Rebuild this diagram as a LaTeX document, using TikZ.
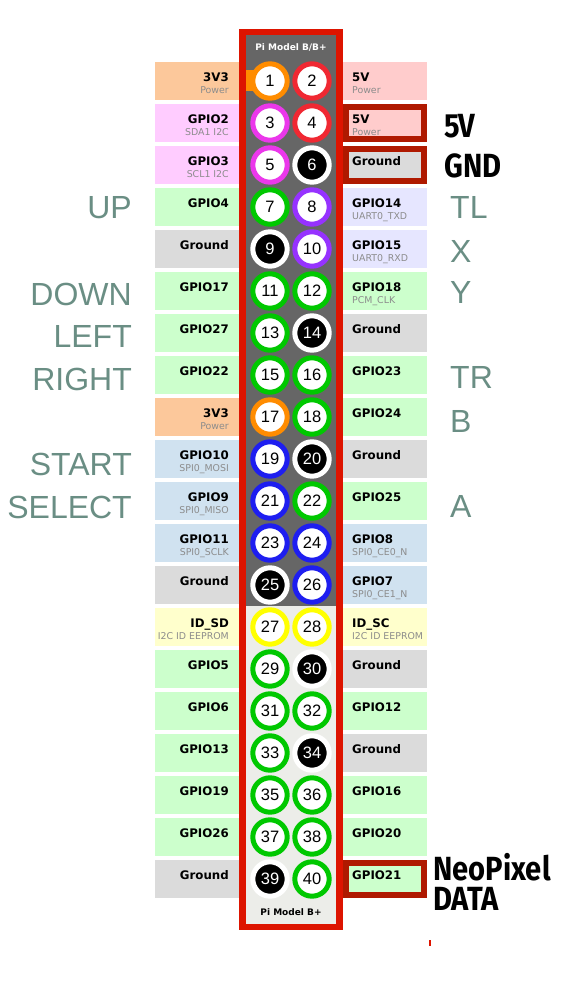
\documentclass[tikz,border=0pt]{standalone}
\usepackage{fontspec}
\setmainfont{DejaVu Sans}
\newfontfamily\pinfont{Liberation Sans}
\newfontfamily\sidefont{Liberation Sans}
\newfontfamily\neofont[FakeStretch=0.87]{Fira Sans}
\usepackage{tikz}
\usetikzlibrary{positioning}

% board and label colours
\definecolor{boardred}{RGB}{221,20,0}
\definecolor{boardgrey}{RGB}{102,102,102}
\definecolor{boardlight}{RGB}{236,237,233}
\definecolor{hired}{RGB}{175,25,0}
\definecolor{sidegreen}{RGB}{106,142,132}
\definecolor{subgrey}{RGB}{140,140,140}
\definecolor{pwr}{RGB}{252,200,155}
\definecolor{five}{RGB}{255,204,204}
\definecolor{itc}{RGB}{255,204,255}
\definecolor{gpio}{RGB}{204,255,204}
\definecolor{gnd}{RGB}{219,219,219}
\definecolor{uart}{RGB}{230,230,255}
\definecolor{spi}{RGB}{208,226,240}
\definecolor{eeprom}{RGB}{255,255,204}
% pin ring colours
\definecolor{rorange}{RGB}{255,140,0}
\definecolor{rred}{RGB}{240,40,50}
\definecolor{rmag}{RGB}{235,55,235}
\definecolor{rgreen}{RGB}{0,200,0}
\definecolor{rpurple}{RGB}{150,50,255}
\definecolor{rblue}{RGB}{30,30,240}
\definecolor{ryellow}{RGB}{255,255,0}

\begin{document}
\begin{tikzpicture}[
    x=1pt, y=-1pt,
    % Style for the coloured boxes beside the header
    pinbox/.style = {rectangle, minimum width=84pt, minimum height=38pt, inner sep=0pt},
    mainlab/.style = {inner sep=0pt, font=\bfseries\fontsize{11.8}{12}\selectfont},
    sublab/.style = {inner sep=0pt, text=subgrey, font=\fontsize{9.4}{10}\selectfont},
    % Style for the header pins: white disc with a coloured ring
    hdrpin/.style = {circle, minimum size=34.4pt, inner sep=0pt, line width=5pt, fill=white,
                     font=\pinfont\fontsize{16.5}{16}\selectfont},
    ringor/.style = {hdrpin, draw=rorange},
    ringred/.style = {hdrpin, draw=rred},
    ringmag/.style = {hdrpin, draw=rmag},
    ringgrn/.style = {hdrpin, draw=rgreen},
    ringpur/.style = {hdrpin, draw=rpurple},
    ringblu/.style = {hdrpin, draw=rblue},
    ringyel/.style = {hdrpin, draw=ryellow},
    gndpin/.style = {hdrpin, draw=white, fill=black, text=white},
    boardtxt/.style = {inner sep=0pt, font=\bfseries\fontsize{9}{10}\selectfont},
    % Style for the gamepad button names
    button/.style = {inner sep=0pt, text=sidegreen, font=\sidefont\fontsize{32}{32}\selectfont},
    neo/.style = {inner sep=0pt, text height=24pt, text depth=0pt,
                  font=\neofont\bfseries\fontsize{33.5}{30}\selectfont},
    hilite/.style = {draw=hired, line width=6pt}
]
    \useasboundingbox (0,0) rectangle (581,985);

    % --- BOARD ---
    \fill[boardred] (239,29) rectangle (343,930);
    \fill[boardgrey] (246,35) rectangle (336,606);
    \fill[boardlight] (246,606) rectangle (336,924);
    \fill[rorange] (246,70) rectangle (270,91);

    \node[boardtxt, text=white] (title) at (291,47) {Pi Model B/B+};
    \node[boardtxt] (foot) at (291,912) {Pi Model B+};

    % --- ODD PINS (Left Column) ---
    \foreach \r/\lab/\sub/\bx/\rs [evaluate=\r as \y using 81+42*(\r-1),
                                   evaluate=\r as \n using int(2*\r-1)] in {
        1/3V3/Power/pwr/ringor, 2/GPIO2/SDA1 I2C/itc/ringmag, 3/GPIO3/SCL1 I2C/itc/ringmag,
        4/GPIO4/{}/gpio/ringgrn, 5/Ground/{}/gnd/gndpin, 6/GPIO17/{}/gpio/ringgrn,
        7/GPIO27/{}/gpio/ringgrn, 8/GPIO22/{}/gpio/ringgrn, 9/3V3/Power/pwr/ringor,
        10/GPIO10/SPI0\_MOSI/spi/ringblu, 11/GPIO9/SPI0\_MISO/spi/ringblu,
        12/GPIO11/SPI0\_SCLK/spi/ringblu, 13/Ground/{}/gnd/gndpin,
        14/ID\_SD/I2C ID EEPROM/eeprom/ringyel, 15/GPIO5/{}/gpio/ringgrn,
        16/GPIO6/{}/gpio/ringgrn, 17/GPIO13/{}/gpio/ringgrn, 18/GPIO19/{}/gpio/ringgrn,
        19/GPIO26/{}/gpio/ringgrn, 20/Ground/{}/gnd/gndpin} {
        \node[pinbox, fill=\bx] (lb\r) at (197,\y) {};
        \node[mainlab, anchor=base east] (lm\r) at (229,\y) {\lab};
        \node[sublab, anchor=base east] (ls\r) at (229,\y+12) {\sub};
        \node[\rs] (p\n) at (270,\y) {\n};
    }

    % --- EVEN PINS (Right Column) ---
    \foreach \r/\lab/\sub/\bx/\rs [evaluate=\r as \y using 81+42*(\r-1),
                                   evaluate=\r as \n using int(2*\r)] in {
        1/5V/Power/five/ringred, 2/5V/Power/five/ringred, 3/Ground/{}/gnd/gndpin,
        4/GPIO14/UART0\_TXD/uart/ringpur, 5/GPIO15/UART0\_RXD/uart/ringpur,
        6/GPIO18/PCM\_CLK/gpio/ringgrn, 7/Ground/{}/gnd/gndpin, 8/GPIO23/{}/gpio/ringgrn,
        9/GPIO24/{}/gpio/ringgrn, 10/Ground/{}/gnd/gndpin, 11/GPIO25/{}/gpio/ringgrn,
        12/GPIO8/SPI0\_CE0\_N/spi/ringblu, 13/GPIO7/SPI0\_CE1\_N/spi/ringblu,
        14/ID\_SC/I2C ID EEPROM/eeprom/ringyel, 15/Ground/{}/gnd/gndpin,
        16/GPIO12/{}/gpio/ringgrn, 17/Ground/{}/gnd/gndpin, 18/GPIO16/{}/gpio/ringgrn,
        19/GPIO20/{}/gpio/ringgrn, 20/GPIO21/{}/gpio/ringgrn} {
        \node[pinbox, fill=\bx] (rb\r) at (385,\y) {};
        \node[mainlab, anchor=base west] (rm\r) at (352,\y) {\lab};
        \node[sublab, anchor=base west] (rs\r) at (352,\y+12) {\sub};
        \node[\rs] (p\n) at (312,\y) {\n};
    }

    % --- HIGHLIGHTED PINS ---
    \foreach \r in {2,3,20}
        \draw[hilite] ([shift={(3pt,-3pt)}]rb\r.north west) rectangle ([shift={(-3pt,3pt)}]rb\r.south east);

    % --- BUTTON NAMES ---
    \node[button, anchor=base east] (up) at (132,218) {UP};
    \node[button, anchor=base east] (down) at (132,305) {DOWN};
    \node[button, anchor=base east] (left) at (132,347) {LEFT};
    \node[button, anchor=base east] (right) at (132,390) {RIGHT};
    \node[button, anchor=base east] (start) at (132,475) {START};
    \node[button, anchor=base east] (select) at (132,518) {SELECT};

    \node[button, anchor=base west] (tl) at (450,218) {TL};
    \node[button, anchor=base west] (bx) at (450,262) {X};
    \node[button, anchor=base west] (by) at (450,303) {Y};
    \node[button, anchor=base west] (tr) at (450,388) {TR};
    \node[button, anchor=base west] (bb) at (450,432) {B};
    \node[button, anchor=base west] (ba) at (450,517) {A};

    % --- POWER AND DATA NAMES ---
    \node[neo, anchor=base west] (fivev) at (444,137) {5V};
    \node[neo, anchor=base west] (gndv) at (444,177) {GND};
    \node[neo, anchor=base west] (neopix) at (433,880) {NeoPixel};
    \node[neo, anchor=base west] (data) at (433,910) {DATA};

    \draw[boardred, line width=1.2pt] (430,940) -- (430,946);

\end{tikzpicture}
\end{document}
